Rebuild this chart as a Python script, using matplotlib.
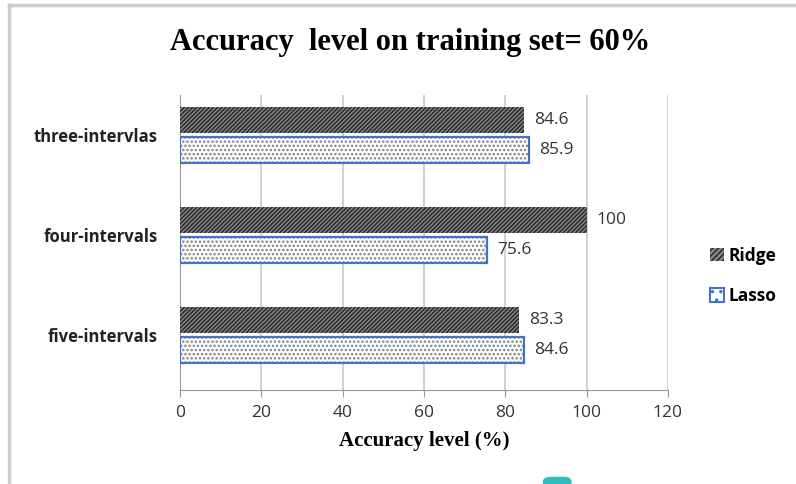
import numpy as np
import matplotlib
matplotlib.use("Agg")
import matplotlib.pyplot as plt
from matplotlib.patches import Patch, FancyBboxPatch
from matplotlib.lines import Line2D

categories = ["five-intervals", "four-intervals", "three-intervlas"]
ridge = [83.3, 100, 84.6]
lasso = [84.6, 75.6, 85.9]
xticks = [0, 20, 40, 60, 80, 100, 120]

plt.rcParams['hatch.linewidth'] = 1.2
sans = ["Open Sans", "DejaVu Sans"]
serif = ["Liberation Serif", "DejaVu Serif"]

fig = plt.figure(figsize=(7.96, 4.84), dpi=100)
ax = fig.add_axes([0.226, 0.194, 0.613, 0.61])

y = np.arange(len(categories))
h = 0.26
rb = ax.barh(y + 0.15, ridge, height=h, color='#8c8c8c', edgecolor='#2e2e2e',
             hatch='////////', linewidth=0, zorder=3)
# dotted fill of the lasso bars, outline drawn on top
for yy, v in zip(y - 0.15, lasso):
    ax.add_patch(plt.Rectangle((0, yy - h / 2), v, h, facecolor='white',
                               edgecolor='#808080', hatch='....', linewidth=0, zorder=3))
lb = ax.barh(y - 0.15, lasso, height=h, color='none', edgecolor='#4472C4',
             linewidth=1.6, zorder=4)

for b, v in zip(rb, ridge):
    ax.text(v + 2.5, b.get_y() + h / 2, f"{v:g}", va='center', ha='left',
            fontsize=12.5, family=sans, color='#333333')
for b, v in zip(lb, lasso):
    ax.text(v + 2.5, b.get_y() + h / 2, f"{v:g}", va='center', ha='left',
            fontsize=12.5, family=sans, color='#333333')

ax.set_xlim(0, 120)
ax.set_ylim(-0.55, 2.4)
ax.set_xticks(xticks)
ax.set_xticklabels([str(t) for t in xticks], family=sans, fontsize=12.5, color='#333333')
ax.set_yticks(y)
ax.set_yticklabels(categories, family=sans, fontsize=12, fontweight='bold', color='#222222')
ax.tick_params(axis='y', length=0, pad=16)
ax.tick_params(axis='x', length=5, color='#999999', pad=6)
ax.grid(axis='x', color='#c8c8c8', linewidth=1.2, zorder=0)
for s in ['top', 'right']:
    ax.spines[s].set_visible(False)
for s in ['left', 'bottom']:
    ax.spines[s].set_color('#999999')

ax.set_xlabel("Accuracy level (%)", family=serif, fontsize=15, fontweight='bold', labelpad=7)
fig.text(0.515, 0.913, "Accuracy  level on training set= 60%", ha='center', va='center',
         family=serif, fontsize=22, fontweight='bold')

handles = [Patch(facecolor='#8c8c8c', edgecolor='#2e2e2e', hatch='//////', linewidth=0),
           Patch(facecolor='white', edgecolor='#4472C4', hatch='..', linewidth=1.5)]
fig.legend(handles, ["Ridge", "Lasso"], loc='center left', bbox_to_anchor=(0.872, 0.43),
           frameon=False, prop={'family': sans, 'weight': 'bold', 'size': 12.5},
           handlelength=0.8, handleheight=0.8, handletextpad=0.3, labelspacing=1.3)

# frame of the picture
fig.add_artist(Line2D([0.011, 0.011], [0, 0.99], color='#cccccc', linewidth=2.5))
fig.add_artist(Line2D([0.011, 1.0], [0.99, 0.99], color='#cccccc', linewidth=2.5))
fig.add_artist(FancyBboxPatch((0.682, -0.02), 0.036, 0.035, boxstyle='round,pad=0,rounding_size=0.01',
                              transform=fig.transFigure, facecolor='#2fbcbc', edgecolor='none'))

fig.savefig("out.png", dpi=100)
